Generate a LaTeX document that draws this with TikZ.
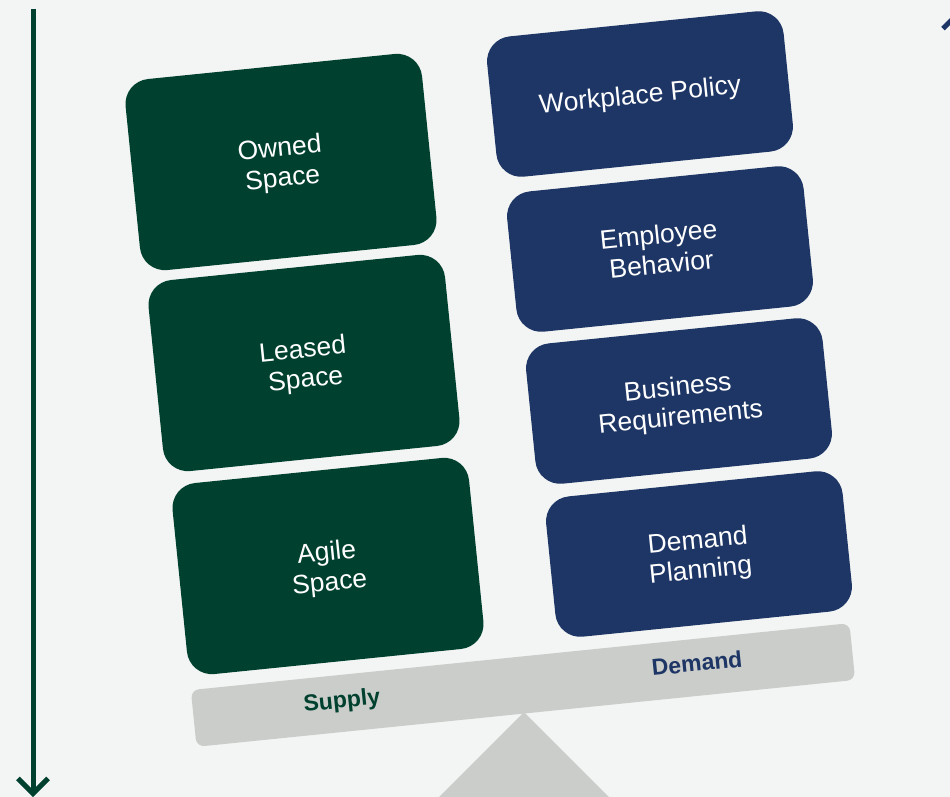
\documentclass[tikz,border=0pt]{standalone}
\usepackage{fontspec}
\setmainfont{Liberation Sans}
\usetikzlibrary{arrows.meta,positioning}
\definecolor{supplygreen}{RGB}{0,64,46}
\definecolor{demandblue}{RGB}{30,54,101}
\definecolor{beamgray}{RGB}{203,205,202}
\definecolor{paper}{RGB}{243,245,244}

\begin{document}
\begin{tikzpicture}[x=1pt, y=-1pt,
    box/.style={rectangle, rounded corners=25pt, rotate=5.8, text=white, align=center, inner sep=0pt, text depth=-2pt, font=\fontsize{26.5}{30}\selectfont},
    supply/.style={box, fill=supplygreen, minimum width=298pt, minimum height=192pt},
    demand/.style={box, fill=demandblue, minimum width=298pt, minimum height=141pt},
    beam/.style={rectangle, fill=beamgray, rounded corners=8pt, rotate=5.8, minimum width=662pt, minimum height=57pt},
    side/.style={rotate=5.8, inner sep=0pt, font=\bfseries\fontsize{23}{23}\selectfont},
    axis/.style={line width=5pt, -{Straight Barb[length=15pt,width=30pt]}}]

            \fill[paper] (0,0) rectangle (950,797);
            \useasboundingbox (0,0) rectangle (950,797);

            % fulcrum and beam
            \fill[beamgray] (524,712) -- (419,817) -- (629,817) -- cycle;
            \node[beam] (beam) at (523,685) {};
            \node[side, text=supplygreen] (supply) at (342,702) {Supply};
            \node[side, text=demandblue] (demand) at (697,663) {Demand};

            \foreach \n/ \x/ \y/ \t in {owned/281/162/{Owned\\Space}, leased/304/363/{Leased\\Space}, agile/328/566/{Agile\\Space}}{
                \node[supply] (\n) at (\x,\y) {\t};
            }

            \foreach \n/ \x/ \y/ \t in {policy/640/94/{Workplace Policy}, behavior/660/249/{Employee\\Behavior}, business/679/401/{Business\\Requirements}, planning/699/554/{Demand\\Planning}}{
                \node[demand] (\n) at (\x,\y) {\t};
            }

            % side arrows
            \coordinate (supplytop) at (33,9);
            \coordinate (supplyend) at (33,797);
            \coordinate (demandbot) at (958,797);
            \coordinate (demandend) at (958,10);
            \draw[axis, supplygreen] (supplytop) -- (supplyend);
            \draw[axis, demandblue] (demandbot) -- (demandend);

\end{tikzpicture}
\end{document}
